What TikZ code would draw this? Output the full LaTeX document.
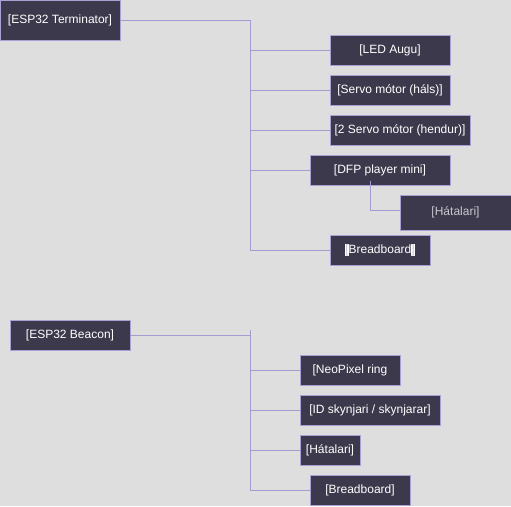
\documentclass[tikz,border=0pt]{standalone}
\usepackage{fontspec}
\setmainfont{Liberation Sans}
\usetikzlibrary{positioning,calc}
\definecolor{bgcol}{RGB}{222,222,222}
\definecolor{boxfill}{RGB}{60,57,76}
\definecolor{boxline}{RGB}{168,162,212}
\definecolor{wirecol}{RGB}{162,156,208}
\definecolor{dimtext}{RGB}{200,200,208}
\newcommand{\hlbr}[1]{{\setlength{\fboxsep}{0pt}\colorbox{white}{\textcolor{dimtext}{#1}}}}

\begin{document}
\begin{tikzpicture}
 [x=1pt,y=-1pt,
% Box style
    part/.style={rectangle,draw=boxline,fill=boxfill,line width=0.8pt,text=white,
        font=\fontsize{12}{14}\selectfont,inner sep=0pt,minimum height=30pt},
% Connector style
    wire/.style={draw=wirecol,line width=0.8pt}
 ]
 \fill[bgcol] (0,0) rectangle (511,506);
 \useasboundingbox (0,0) rectangle (511,506);
%% ESP32 Terminator and its parts
 \node (term)  [part,minimum width=120pt,minimum height=40pt] at (60,20)  {[ESP32 Terminator]};
 \node (led)   [part,minimum width=120pt] at (390,50)  {[LED Augu]};
 \node (servo) [part,minimum width=120pt] at (390,90)  {[Servo mótor (háls)]};
 \node (hend)  [part,minimum width=140pt] at (400,130) {[2 Servo mótor (hendur)]};
 \node (dfp)   [part,minimum width=140pt] at (380,170) {[DFP player mini]};
 \node (hat1)  [part,minimum width=111pt,minimum height=35pt,text=dimtext] at (455.5,212.5) {[Hátalari]};
 \node (bb1)   [part,minimum width=100pt] at (380,250) {\hlbr{[}Breadboard\hlbr{]}};
%% ESP32 Beacon and its parts
 \node (beacon) [part,minimum width=120pt] at (70,335)  {[ESP32 Beacon]};
 \node (neo)    [part,minimum width=100pt] at (350,370) {[NeoPixel ring};
 \node (ids)    [part,minimum width=140pt] at (370,410) {[ID skynjari / skynjarar]};
 \node (hat2)   [part,minimum width=60pt]  at (330,450) {[Hátalari]};
 \node (bb2)    [part,minimum width=100pt] at (360,490) {[Breadboard]};
%% Connectors
 \coordinate (tA) at (250,250);
 \draw[wire] (term.east) -| (tA);
 \foreach \n in {led,servo,hend,dfp,bb1}
    \draw[wire] (\n.west) -- (\n.west -| tA);
 \draw[wire] ([xshift=-10pt,yshift=4pt]dfp.south) |- ([yshift=2.5pt]hat1.west);
 \coordinate (tBtop) at (250,330);
 \coordinate (tBbot) at (250,490);
 \draw[wire] (tBtop) -- (tBbot);
 \draw[wire] (beacon.east) -- (beacon.east -| tBtop);
 \foreach \n in {neo,ids,hat2,bb2}
    \draw[wire] (\n.west) -- (\n.west -| tBtop);
\end{tikzpicture}
\end{document}
